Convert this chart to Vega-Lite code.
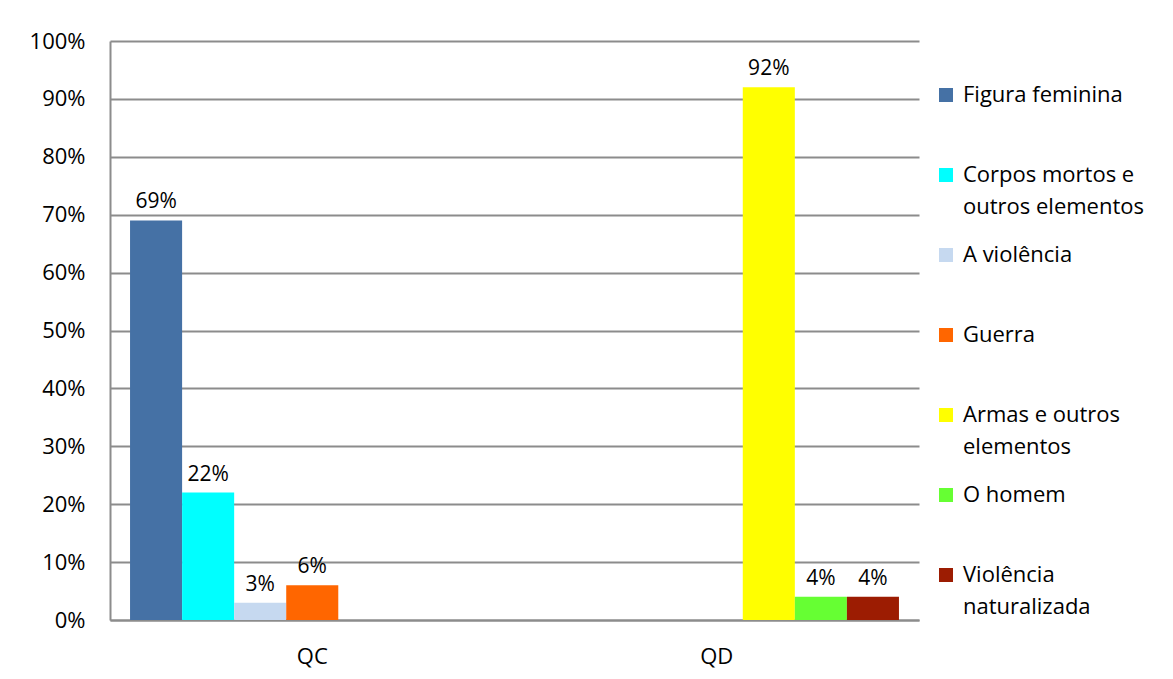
{
  "$schema": "https://vega.github.io/schema/vega-lite/v6.json",
  "autosize": "none",
  "padding": {"left": 110, "top": 41, "right": 254, "bottom": 59},
  "width": 809,
  "height": 579,
  "background": "white",
  "config": {
    "font": "Open Sans",
    "view": {"stroke": null},
    "axis": {"labelFont": "Open Sans", "labelColor": "#000000"},
    "style": {"guide-label": {"lineHeight": 32}}
  },
  "data": {
    "values": [
      {"grupo": "QC", "categoria": "Figura feminina", "valor": 0.69},
      {"grupo": "QC", "categoria": "Corpos mortos e outros elementos", "valor": 0.22},
      {"grupo": "QC", "categoria": "A violência", "valor": 0.03},
      {"grupo": "QC", "categoria": "Guerra", "valor": 0.06},
      {"grupo": "QD", "categoria": "Armas e outros elementos", "valor": 0.92},
      {"grupo": "QD", "categoria": "O homem", "valor": 0.04},
      {"grupo": "QD", "categoria": "Violência naturalizada", "valor": 0.04}
    ]
  },
  "encoding": {
    "x": {
      "field": "grupo",
      "type": "nominal",
      "scale": {"domain": ["QC", "QD"], "paddingInner": 0, "paddingOuter": 0},
      "axis": {
        "title": null,
        "labelAngle": 0,
        "labelFontSize": 22,
        "labelPadding": 26,
        "ticks": false,
        "domainColor": "#8c8c8c",
        "domainWidth": 2
      }
    },
    "xOffset": {
      "field": "categoria",
      "type": "nominal",
      "scale": {
        "domain": ["Figura feminina", "Corpos mortos e outros elementos", "A violência", "Guerra", "Armas e outros elementos", "O homem", "Violência naturalizada"],
        "paddingInner": 0,
        "paddingOuter": 0.385
      }
    },
    "y": {
      "field": "valor",
      "type": "quantitative",
      "scale": {"domain": [0, 1], "nice": false},
      "axis": {
        "title": null,
        "format": ".0%",
        "values": [0, 0.1, 0.2, 0.3, 0.4, 0.5, 0.6, 0.7, 0.8, 0.9, 1],
        "labelFontSize": 22,
        "labelPadding": 25,
        "ticks": false,
        "domainColor": "#8c8c8c",
        "domainWidth": 2,
        "gridColor": "#8c8c8c",
        "gridWidth": 2
      }
    }
  },
  "layer": [
    {
      "mark": {"type": "bar", "width": {"band": 1}},
      "encoding": {
        "color": {
          "field": "categoria",
          "type": "nominal",
          "scale": {
            "domain": ["Figura feminina", "Corpos mortos e outros elementos", "A violência", "Guerra", "Armas e outros elementos", "O homem", "Violência naturalizada"],
            "range": ["#4571A5", "#00FFFF", "#C6D9F0", "#FF6600", "#FFFF00", "#66FF33", "#9C1C02"]
          },
          "legend": {
            "title": null,
            "orient": "none",
            "legendX": 825,
            "legendY": 43,
            "padding": 0,
            "symbolType": "square",
            "symbolSize": 196,
            "symbolStrokeWidth": 0,
            "labelFontSize": 22,
            "labelFont": "Open Sans",
            "labelColor": "#000000",
            "labelOffset": 6,
            "labelLimit": 300,
            "rowPadding": 26,
            "gridAlign": "all",
            "labelExpr": "datum.label == 'Corpos mortos e outros elementos' ? ['Corpos mortos e', 'outros elementos'] : datum.label == 'Armas e outros elementos' ? ['Armas e outros', 'elementos'] : datum.label == 'Violência naturalizada' ? ['Violência', 'naturalizada'] : datum.label"
          }
        }
      }
    },
    {
      "mark": {"type": "text", "baseline": "bottom", "dy": -8, "fontSize": 21, "font": "Open Sans", "color": "#000000"},
      "encoding": {
        "text": {"field": "valor", "type": "quantitative", "format": ".0%"}
      }
    }
  ]
}
